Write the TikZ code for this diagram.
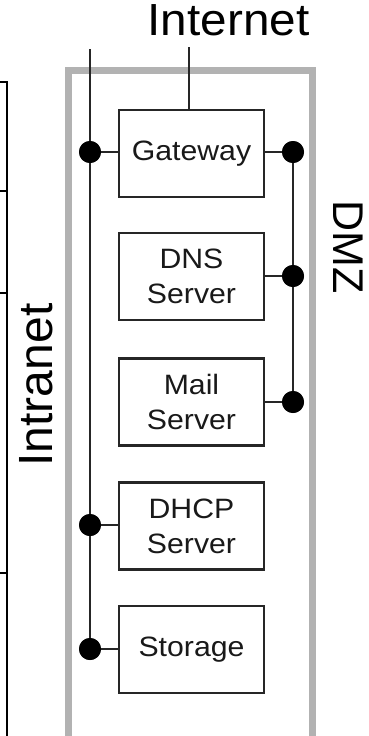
\documentclass[tikz,border=0pt]{standalone}
\usepackage{fontspec}
\setmainfont{Liberation Sans}
\begin{document}
\begin{tikzpicture}[x=1pt,y=-1pt,
  srv/.style={draw=black!85,line width=2.4pt,minimum width=145pt,minimum height=87pt,inner sep=0pt,
    align=center,font=\fontsize{28}{35}\selectfont,text=black!90},
  bus/.style={draw=black!85,line width=2.4pt},
  dot/.style={circle,fill=black,inner sep=0pt,minimum size=22pt},
  thin/.style={draw=black,line width=1.2pt},
  big/.style={font=\fontsize{45}{50}\selectfont}]
\useasboundingbox (0,0) rectangle (369,736);
\begin{scope}
\clip (0,0) rectangle (369,736);
% gray frame
\draw[line width=6.5pt,draw=black!30] (68.5,70.5) rectangle (312.5,739);
% left thin lines
\coordinate (l0) at (0,82);
\coordinate (l1) at (7,82);
\coordinate (l2) at (7,740);
\draw[thin] (l0) -- (l1) -- (l2);
\foreach \yy in {191,293,573}{
  \draw[thin] (0,\yy) -- (7,\yy);
}
% servers
\node[srv] (gw) at (191.5,153.5) {};
\node[srv] (dns) at (191.5,276.5) {};
\node[srv] (mail) at (191.5,402) {};
\node[srv] (dhcp) at (191.5,526) {};
\node[srv] (st) at (191.5,649.5) {};
\begin{scope}[every node/.style={align=center,font=\fontsize{28}{35}\selectfont,text=black!90,xscale=1.08}]
\node at (gw) {Gateway};
\node at (dns) {DNS\\Server};
\node at (mail) {Mail\\Server};
\node at (dhcp) {DHCP\\Server};
\node at (st) {Storage};
\end{scope}
% labels
\node[big,anchor=base,xscale=1.06] (inet) at (228.5,35) {Internet};
\node[font=\fontsize{48}{52}\selectfont,anchor=base,rotate=90] (intra) at (52,385) {Intranet};
\node[font=\fontsize{43}{48}\selectfont,anchor=base,rotate=-90] (dmz) at (333,247) {DMZ};
% connection points
\coordinate (itop) at (189,47);
\coordinate (btop) at (90,49);
\node[dot] (d1) at (90,152) {};
\node[dot] (d2) at (90,525) {};
\node[dot] (d3) at (90,649) {};
\node[dot] (r1) at (293,152) {};
\node[dot] (r2) at (293,276) {};
\node[dot] (r3) at (293,402) {};
% buses
\draw[bus] (itop) -- (itop |- gw.north);
\draw[bus] (btop) -- (d3.center);
\draw[bus] (d1.center) -- (d1 -| gw.west);
\draw[bus] (d2.center) -- (d2 -| dhcp.west);
\draw[bus] (d3.center) -- (d3 -| st.west);
\draw[bus] (r1.center) -- (r3.center);
\draw[bus] (r1.center) -- (r1 -| gw.east);
\draw[bus] (r2.center) -- (r2 -| dns.east);
\draw[bus] (r3.center) -- (r3 -| mail.east);
\node[dot] at (d1) {};
\node[dot] at (d2) {};
\node[dot] at (d3) {};
\node[dot] at (r1) {};
\node[dot] at (r2) {};
\node[dot] at (r3) {};
\end{scope}
\end{tikzpicture}
\end{document}
